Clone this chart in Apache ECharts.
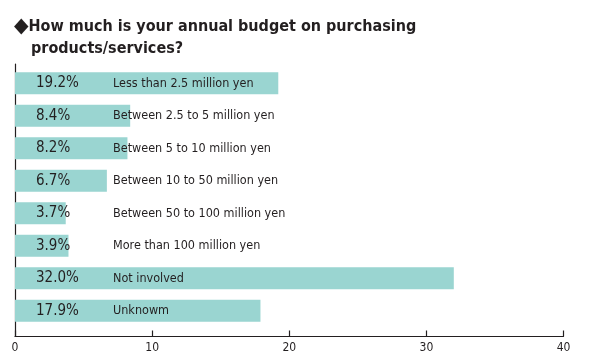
<!DOCTYPE html>
<html>
<head>
<meta charset="utf-8">
<script src="https://cdn.jsdelivr.net/npm/echarts@6/dist/echarts.min.js"></script>
<style>html,body{margin:0;padding:0;background:#fff}#c{width:593px;height:362px}</style>
</head>
<body>
<div id="c"></div>
<script>
const titleMark = '◆';
const titleLine1 = 'How much is your annual budget on purchasing';
const titleLine2 = 'products/services?';
const categories = ['Less than 2.5 million yen','Between 2.5 to 5 million yen','Between 5 to 10 million yen','Between 10 to 50 million yen','Between 50 to 100 million yen','More than 100 million yen','Not involved','Unknowm'];
const values = [19.2, 8.4, 8.2, 6.7, 3.7, 3.9, 32.0, 17.9];
const xTicks = [0, 10, 20, 30, 40];

const FONT = "'DejaVu Sans Condensed', 'Liberation Sans', sans-serif";
const INK = '#231f20';
const chart = echarts.init(document.getElementById('c'), null, {renderer: 'canvas'});
chart.setOption({
  animation: false,
  backgroundColor: '#fff',
  title: [
    {text: '{d|' + titleMark + '}{t|' + titleLine1 + '}', left: 14, top: 16, padding: 0,
     textStyle: {rich: {
       d: {fontFamily: FONT, fontSize: 21, color: INK},
       t: {fontFamily: FONT, fontSize: 16, fontWeight: 'bold', color: INK}
     }}},
    {text: titleLine2, left: 31, top: 41, padding: 0, textStyle: {fontFamily: FONT, fontSize: 16, fontWeight: 'bold', color: INK}}
  ],
  grid: [
    {left: 15, right: 29.5, top: 67, bottom: 35},
    {left: 15, right: 29.5, top: 64, bottom: 25.5}
  ],
  xAxis: [
    {gridIndex: 0, type: 'value', min: xTicks[0], max: xTicks[xTicks.length-1], interval: 10, show: false},
    {gridIndex: 1, type: 'value', min: xTicks[0], max: xTicks[xTicks.length-1], interval: 10,
     axisLine: {show: true, lineStyle: {color: INK, width: 1.2}},
     axisTick: {show: true, inside: true, length: 6, lineStyle: {color: INK, width: 1.2}},
     axisLabel: {fontFamily: FONT, fontSize: 12, color: INK, margin: 5},
     splitLine: {show: false}}
  ],
  yAxis: [
    {gridIndex: 0, type: 'category', data: categories, inverse: true, show: false},
    {gridIndex: 1, type: 'value', min: 0, max: 1, axisLine: {show: true, lineStyle: {color: INK, width: 1.2}},
     axisTick: {show: false}, axisLabel: {show: false}, splitLine: {show: false}}
  ],
  series: [{
    type: 'bar', xAxisIndex: 0, yAxisIndex: 0,
    data: values, barWidth: 22,
    itemStyle: {color: '#9ad5d1'},
    label: {
      show: true, position: 'insideLeft', distance: 21,
      formatter: p => '{p|' + p.value.toFixed(1) + '%}{c|' + p.name + '}',
      rich: {
        p: {fontFamily: FONT, fontSize: 15, color: INK, width: 77},
        c: {fontFamily: FONT, fontSize: 12.5, color: INK}
      }
    }
  }]
});
</script>
</body>
</html>
